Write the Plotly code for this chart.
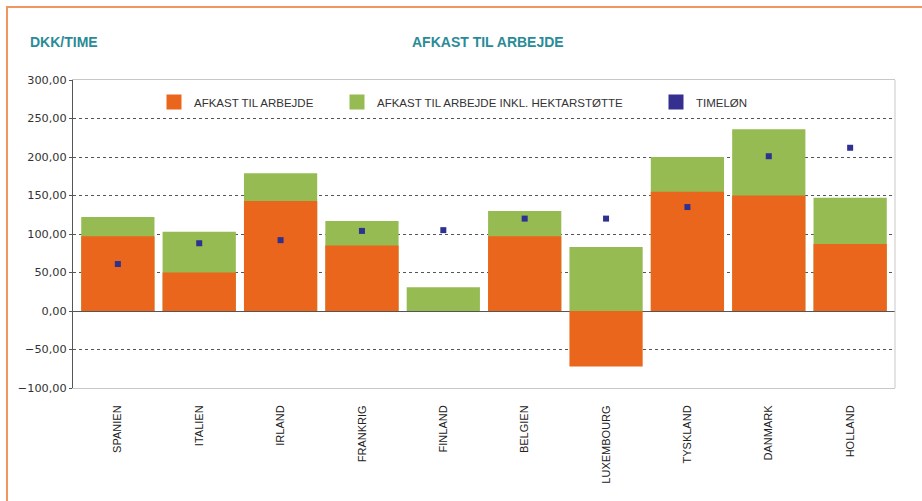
import plotly.graph_objects as go

lande = ["SPANIEN", "ITALIEN", "IRLAND", "FRANKRIG", "FINLAND",
         "BELGIEN", "LUXEMBOURG", "TYSKLAND", "DANMARK", "HOLLAND"]
afkast = [97, 50, 143, 85, 0, 97, -72, 155, 150, 87]
afkast_inkl = [122, 103, 179, 117, 31, 130, 83, 200, 236, 147]
timeloen = [61, 88, 92, 104, 105, 120, 120, 135, 201, 212]
y_ticks = [-100, -50, 0, 50, 100, 150, 200, 250, 300]

ORANGE = "#EA661C"
GREEN = "#96BB52"
NAVY = "#2E3190"
TEAL = "#2A8B97"

fig = go.Figure()
fig.add_trace(go.Bar(x=lande, y=afkast_inkl, marker=dict(color=GREEN, line=dict(width=0)),
                     width=0.9, showlegend=False, name="AFKAST TIL ARBEJDE INKL. HEKTARSTØTTE"))
fig.add_trace(go.Bar(x=lande, y=afkast, marker=dict(color=ORANGE, line=dict(width=0)),
                     width=0.9, showlegend=False, name="AFKAST TIL ARBEJDE"))
fig.add_trace(go.Scatter(x=lande, y=timeloen, mode="markers",
                         marker=dict(symbol="square", size=6, color=NAVY),
                         showlegend=False, name="TIMELØN"))

# legend-only entries
for name, col, leg in [("AFKAST TIL ARBEJDE", ORANGE, "legend"),
                       ("AFKAST TIL ARBEJDE INKL. HEKTARSTØTTE", GREEN, "legend2"),
                       ("TIMELØN", "#35308F", "legend3")]:
    fig.add_trace(go.Scatter(x=[None], y=[None], mode="markers", name=name,
                             marker=dict(symbol="square", size=15, color=col),
                             showlegend=True, legend=leg))

W, H = 922, 501
PL, PR, PT, PB = 73, 895, 80, 388   # plot area on screen
L, T = PL, PT
R, B = W - PR, H - PB
pw, ph = W - L - R, H - T - B

def px(xs):
    return (xs - L) / pw

def py(ys):
    return (H - B - ys) / ph

legfont = dict(family="Liberation Sans, Arial, sans-serif", size=11.5, color="#333333")
common = dict(orientation="h", bgcolor="rgba(0,0,0,0)", borderwidth=0, font=legfont,
              xanchor="left", yanchor="middle", y=py(102))
fig.update_layout(
    legend=dict(x=px(154), **common),
    legend2=dict(x=px(337), **common),
    legend3=dict(x=px(656), **common),
)

fig.update_layout(
    width=W, height=H,
    margin=dict(l=L, r=R, t=T, b=B),
    paper_bgcolor="white", plot_bgcolor="white",
    barmode="overlay",
    separators=",.",
    xaxis=dict(
        showgrid=False, tickangle=-90, ticklabelstandoff=12,
        tickfont=dict(family="Liberation Sans, Arial, sans-serif", size=11, color="#222222"),
        showline=True, mirror=True, linecolor="#c8c8c8", linewidth=1,
        ticks="", fixedrange=True,
    ),
    yaxis=dict(
        range=[-100, 300], tickvals=y_ticks, tickformat=".2f",
        showgrid=True, gridcolor="#555555", griddash="dot", gridwidth=1,
        zeroline=True, zerolinecolor="#555555", zerolinewidth=1,
        showline=True, linecolor="#555555", linewidth=1,
        ticks="outside", ticklen=3, tickcolor="#555555",
        tickfont=dict(family="DejaVu Sans, Verdana, sans-serif", size=11.3, color="#333333"),
    ),
    annotations=[
        dict(text="DKK/TIME", xref="paper", yref="paper", x=px(28), y=py(42),
             xanchor="left", yanchor="middle", showarrow=False,
             font=dict(family="Liberation Sans, Arial, sans-serif", size=14, color=TEAL, weight="bold")),
        dict(text="AFKAST TIL ARBEJDE", xref="paper", yref="paper", x=px(488), y=py(42),
             xanchor="center", yanchor="middle", showarrow=False,
             font=dict(family="Liberation Sans, Arial, sans-serif", size=14, color=TEAL, weight="bold")),
    ],
    shapes=[
        dict(type="line", xref="paper", yref="paper", x0=1, x1=1, y0=0, y1=1,
             line=dict(color="#c8c8c8", width=1)),
        dict(type="rect", xref="paper", yref="paper", x0=px(7), y0=-2, x1=2, y1=py(7),
             line=dict(color="#F0965E", width=2), fillcolor="rgba(0,0,0,0)"),
    ],
)

fig.write_html("out.html", config={"displayModeBar": False},
               post_script="document.body.style.margin='0px';")
